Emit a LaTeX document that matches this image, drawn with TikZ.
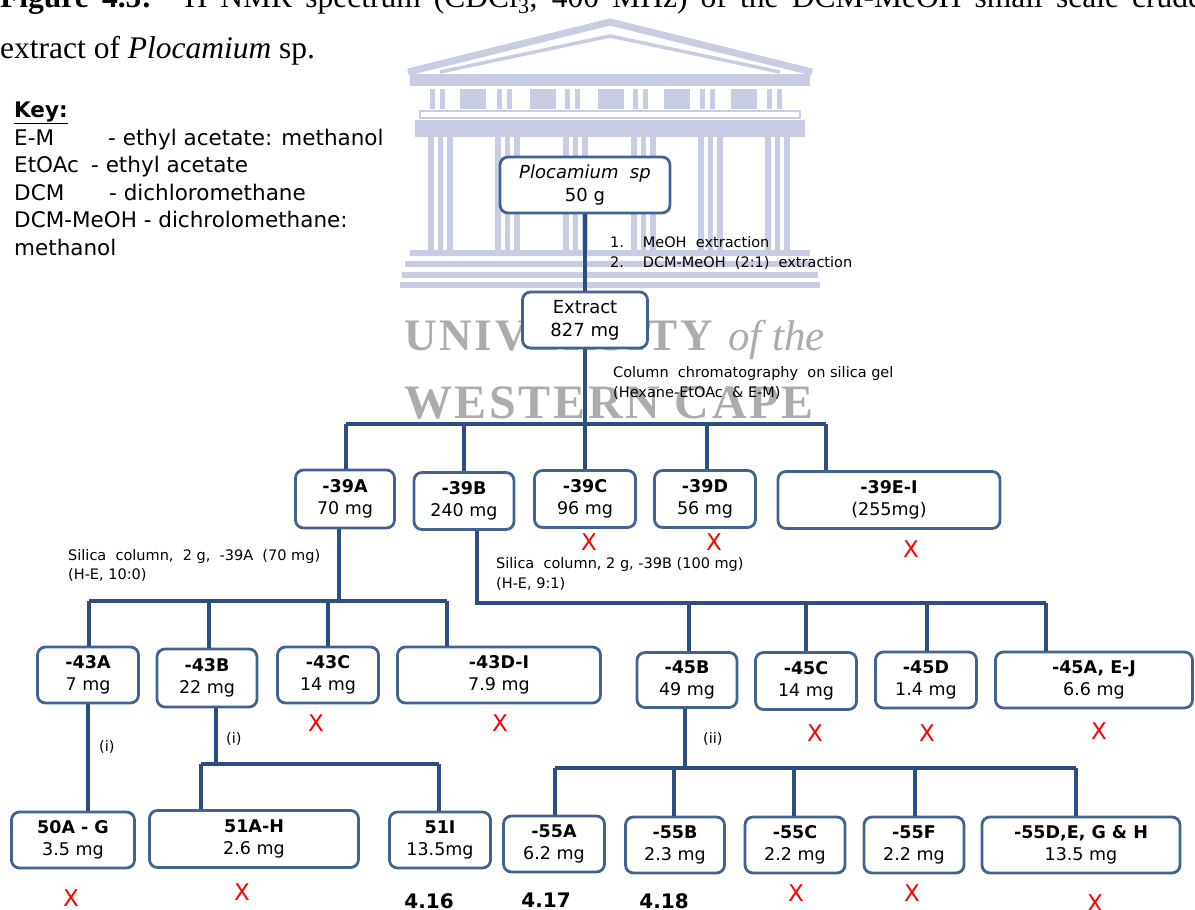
\documentclass[tikz,border=0pt]{standalone}
\usepackage{fontspec}
\setmainfont{DejaVu Sans}
\newfontfamily\serifhdr{Liberation Serif}
\definecolor{boxc}{RGB}{66,99,146}
\definecolor{linec}{RGB}{44,78,130}
\definecolor{wmc}{RGB}{200,205,227}
\definecolor{wmtext}{RGB}{172,172,172}
\begin{document}
\begin{tikzpicture}[x=1pt,y=-1pt,
 box/.style={draw=boxc, line width=2.8pt, rounded corners=8pt, fill=white, align=center, inner sep=0pt, font=\fontsize{17.5}{22}\selectfont},
 bigbox/.style={box, font=\fontsize{18}{23}\selectfont},
 conn/.style={draw=linec, line width=3.4pt},
 note/.style={anchor=base west, inner sep=0pt, font=\fontsize{14.5}{20}\selectfont},
 xmark/.style={text=red, inner sep=0pt, font=\fontsize{23}{23}\selectfont},
 cmpd/.style={anchor=north, inner sep=0pt, font=\bfseries\fontsize{20}{20}\selectfont},
 keyt/.style={anchor=base west, inner sep=0pt, font=\fontsize{21.5}{26}\selectfont},
 wm/.style={fill=wmc, draw=none},
 wmt/.style={anchor=base west, inner sep=0pt, text=wmtext},
 hdr/.style={anchor=base west, inner sep=0pt, font=\serifhdr\fontsize{31.5}{31.5}\selectfont},
]
\useasboundingbox (0,0) rectangle (1195,910);
\fill[white] (0,0) rectangle (1195,910);

% ---------- watermark ----------
\begin{scope}
\draw[wmc, line width=7pt] (408,72) -- (610,22) -- (812,72);
\draw[wmc, line width=3.5pt] (440,72) -- (610,36) -- (780,72);
\fill[wm] (410,74) rectangle (810,86);
\foreach \x in {430,497,565,633,700,767} {
  \fill[wm] (\x,89) rectangle ++(5,20);
  \fill[wm] (\x+10,89) rectangle ++(5,20);
}
\foreach \x in {460,530,598,664,731} { \fill[wm] (\x,89) rectangle ++(26,20); }
\draw[wmc, line width=2pt] (420,111) rectangle (800,118);
\fill[wm] (415,120) rectangle (805,137);
\foreach \x in {428,495,563,631,698,765} {
  \fill[wm] (\x,137) rectangle ++(6,113);
  \fill[wm] (\x+10,137) rectangle ++(5,113);
  \fill[wm] (\x+19,137) rectangle ++(6,113);
}
\fill[wm] (410,250) rectangle (810,256);
\fill[wm] (405,261) rectangle (815,267);
\fill[wm] (402,272) rectangle (818,278);
\fill[wm] (400,282) rectangle (820,288);
\end{scope}
\node[wmt, font=\serifhdr\bfseries\fontsize{45}{45}\selectfont\addfontfeature{LetterSpace=6.5}] (wmu) at (404,350) {UNIVERSITY};
\node[wmt, font=\serifhdr\itshape\fontsize{43}{43}\selectfont] (wmo) at (728,350) {of the};
\node[wmt, font=\serifhdr\bfseries\fontsize{48}{48}\selectfont\addfontfeature{LetterSpace=5.5}] (wmw) at (404,418) {WESTERN CAPE};

% ---------- header ----------
\node[hdr] (h1) at (0,7) {\makebox[1202pt][s]{\textbf{Figure 4.5:} \textsuperscript{1}H NMR spectrum (CDCl\textsubscript{3}, 400 MHz) of the DCM-MeOH small scale crude}};
\node[hdr] (h2) at (0,58) {extract of \textit{Plocamium} sp.};

% ---------- key ----------
\node[keyt] (key) at (14,117) {\underline{\textbf{Key:}}};
\node[keyt] (k1a) at (14,145) {E-M};
\node[keyt] (k1b) at (108,145) {- ethyl acetate: methanol};
\node[keyt] (k2a) at (14,172) {EtOAc};
\node[keyt] (k2b) at (91,172) {- ethyl acetate};
\node[keyt] (k3a) at (14,200) {DCM};
\node[keyt] (k3b) at (109,200) {- dichloromethane};
\node[keyt] (k4) at (14,227) {DCM-MeOH - dichrolomethane:};
\node[keyt] (k5) at (14,255) {methanol};

% ---------- boxes ----------
\node[bigbox, minimum width=170, minimum height=56] (plo) at (585,185) {\textit{Plocamium\ \ sp}\\50 g};
\node[bigbox, minimum width=125, minimum height=56] (ext) at (585,320) {Extract\\827 mg};

\node[box, minimum width=99, minimum height=58] (a39) at (345,499) {\textbf{-39A}\\70 mg};
\node[box, minimum width=100, minimum height=57] (b39) at (464,501) {\textbf{-39B}\\240 mg};
\node[box, minimum width=101, minimum height=57] (c39) at (585,499) {\textbf{-39C}\\96 mg};
\node[box, minimum width=101, minimum height=57] (d39) at (705,499) {\textbf{-39D}\\56 mg};
\node[box, minimum width=222, minimum height=57] (e39) at (889,500) {\textbf{-39E-I}\\(255mg)};

\node[box, minimum width=101, minimum height=56] (a43) at (88,675) {\textbf{-43A}\\7 mg};
\node[box, minimum width=100, minimum height=58] (b43) at (207,678) {\textbf{-43B}\\22 mg};
\node[box, minimum width=101, minimum height=56] (c43) at (328,675) {\textbf{-43C}\\14 mg};
\node[box, minimum width=203, minimum height=56] (d43) at (499,675) {\textbf{-43D-I}\\7.9 mg};

\node[box, minimum width=100, minimum height=55] (b45) at (687,680) {\textbf{-45B}\\49 mg};
\node[box, minimum width=101, minimum height=57] (c45) at (806,681) {\textbf{-45C}\\14 mg};
\node[box, minimum width=101, minimum height=56] (d45) at (926,680) {\textbf{-45D}\\1.4 mg};
\node[box, minimum width=197, minimum height=56] (a45) at (1094,680) {\textbf{-45A, E-J}\\6.6 mg};

\node[box, minimum width=123, minimum height=56] (g50) at (73,840) {\textbf{50A - G}\\3.5 mg};
\node[box, minimum width=209, minimum height=57] (h51) at (254,839) {\textbf{51A-H}\\2.6 mg};
\node[box, minimum width=101, minimum height=56] (i51) at (440,840) {\textbf{51I}\\13.5mg};
\node[box, minimum width=101, minimum height=56] (a55) at (554,844) {\textbf{-55A}\\6.2 mg};
\node[box, minimum width=99, minimum height=56] (b55) at (675,845) {\textbf{-55B}\\2.3 mg};
\node[box, minimum width=100, minimum height=56] (c55) at (795,845) {\textbf{-55C}\\2.2 mg};
\node[box, minimum width=100, minimum height=56] (f55) at (914,845) {\textbf{-55F}\\2.2 mg};
\node[box, minimum width=198, minimum height=56] (dh55) at (1081,845) {\textbf{-55D,E, G \& H}\\13.5 mg};

% ---------- junction coordinates ----------
\coordinate (j39) at (585,424);
\coordinate (j39a) at (346,424);
\coordinate (j39b) at (464,424);
\coordinate (j39d) at (707,424);
\coordinate (j39e) at (826,424);
\coordinate (j43) at (339,601);
\coordinate (j43a) at (89,601);
\coordinate (j43b) at (209,601);
\coordinate (j43c) at (328,601);
\coordinate (j43d) at (447,601);
\coordinate (k45) at (477,603);
\coordinate (j45b) at (689,603);
\coordinate (j45c) at (806,603);
\coordinate (j45d) at (927,603);
\coordinate (j45a) at (1046,603);
\coordinate (j51) at (216,764);
\coordinate (j51h) at (201,764);
\coordinate (j51i) at (439,764);
\coordinate (j55) at (685,768);
\coordinate (j55a) at (555,768);
\coordinate (j55b) at (674,768);
\coordinate (j55c) at (794,768);
\coordinate (j55f) at (915,768);
\coordinate (j55d) at (1076,768);

% ---------- connectors ----------
\draw[conn] (plo.south) -- (ext.north);
\draw[conn] (ext.south) -- (j39);
\draw[conn] (j39a) -- (j39e);
\draw[conn] (j39a) -- (j39a |- a39.north);
\draw[conn] (j39b) -- (j39b |- b39.north);
\draw[conn] (j39) -- (c39.north);
\draw[conn] (j39d) -- (j39d |- d39.north);
\draw[conn] (j39e) -- (j39e |- e39.north);

\draw[conn] (j43 |- a39.south) -- (j43);
\draw[conn] (j43a) -- (j43d);
\draw[conn] (j43a) -- (j43a |- a43.north);
\draw[conn] (j43b) -- (j43b |- b43.north);
\draw[conn] (j43c) -- (j43c |- c43.north);
\draw[conn] (j43d) -- (j43d |- d43.north);

\draw[conn] (k45 |- b39.south) -- (k45) -- (j45a);
\draw[conn] (j45b) -- (j45b |- b45.north);
\draw[conn] (j45c) -- (j45c |- c45.north);
\draw[conn] (j45d) -- (j45d |- d45.north);
\draw[conn] (j45a) -- (j45a |- a45.north);

\draw[conn] (a43.south) -- (a43.south |- g50.north);

\draw[conn] (j51 |- b43.south) -- (j51);
\draw[conn] (j51h) -- (j51i);
\draw[conn] (j51h) -- (j51h |- h51.north);
\draw[conn] (j51i) -- (j51i |- i51.north);

\draw[conn] (j55 |- b45.south) -- (j55);
\draw[conn] (j55a) -- (j55d);
\draw[conn] (j55a) -- (j55a |- a55.north);
\draw[conn] (j55b) -- (j55b |- b55.north);
\draw[conn] (j55c) -- (j55c |- c55.north);
\draw[conn] (j55f) -- (j55f |- f55.north);
\draw[conn] (j55d) -- (j55d |- dh55.north);

% ---------- notes ----------
\node[note] (n1) at (610,247) {1.\hspace{1.3em}MeOH\ \ extraction};
\node[note] (n2) at (610,267) {2.\hspace{1.3em}DCM-MeOH\ \ (2:1)\ \ extraction};
\node[note] (n3) at (613,377) {Column\ \ chromatography\ \ on\ silica\ gel};
\node[note] (n4) at (613,397) {(Hexane-EtOAc\ \ \&\ E-M)};
\node[note] (n5) at (68,560) {Silica\ \ column,\ \ 2\ g,\ \ -39A\ \ (70\ mg)};
\node[note] (n6) at (68,579) {(H-E, 10:0)};
\node[note] (n7) at (496,568) {Silica\ \ column, 2 g, -39B (100 mg)};
\node[note] (n8) at (496,588) {(H-E, 9:1)};
\node[note] (r1) at (99,751) {(i)};
\node[note] (r2) at (226,743) {(i)};
\node[note] (r3) at (703,743) {(ii)};

% ---------- X marks ----------
\node[xmark] (x39c) at (589,542) {X};
\node[xmark] (x39d) at (714,542) {X};
\node[xmark] (x39e) at (911,549) {X};
\node[xmark] (x43c) at (316,723) {X};
\node[xmark] (x43d) at (500,723) {X};
\node[xmark] (x45c) at (815,733) {X};
\node[xmark] (x45d) at (927,733) {X};
\node[xmark] (x45a) at (1099,731) {X};
\node[xmark] (x50) at (71,898) {X};
\node[xmark] (x51) at (242,892) {X};
\node[xmark] (x55c) at (796,893) {X};
\node[xmark] (x55f) at (912,893) {X};
\node[xmark] (x55d) at (1095,903) {X};

% ---------- compound numbers ----------
\node[cmpd] (c416) at (429,893) {4.16};
\node[cmpd] (c417) at (546,893) {4.17};
\node[cmpd] (c418) at (664,893) {4.18};
\end{tikzpicture}
\end{document}
